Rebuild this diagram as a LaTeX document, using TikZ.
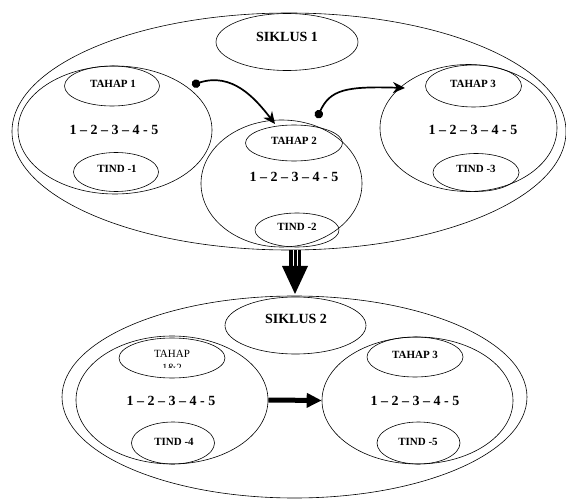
\documentclass[tikz,border=0pt]{standalone}
\usepackage{fontspec}
\setmainfont{Liberation Serif}
\usetikzlibrary{shapes.geometric,arrows.meta}
\begin{document}
\begin{tikzpicture}[x=1pt,y=-1pt,
  ell/.style={draw,ellipse,inner sep=0pt,line width=0.6pt},
  small/.style={font=\fontsize{11}{13}\selectfont\bfseries,inner sep=0pt},
  seq/.style={font=\fontsize{14}{16}\selectfont\bfseries,inner sep=0pt},
  title/.style={font=\fontsize{14}{16}\selectfont\bfseries,inner sep=0pt},
  curvearrow/.style={line width=1.7pt,{Circle[length=8.5pt]}-{Stealth[length=12pt,width=11pt]}}]
\useasboundingbox (0,0) rectangle (566,500);
% ---- Siklus 1
\node[ell,minimum width=554pt,minimum height=237pt] (out1) at (289,131.5) {};
\node[ell,minimum width=142pt,minimum height=57pt] (s1) at (287,42) {};
\node[title] (s1t) at (287,37) {SIKLUS 1};
\node[ell,minimum width=194pt,minimum height=128pt] (L1) at (115,130) {};
\node[ell,minimum width=95pt,minimum height=40pt] (T1) at (112,86) {};
\node[small] (T1t) at (113,84) {TAHAP 1};
\node[seq] (q1) at (114,130) {1 – 2 – 3 – 4 - 5};
\node[ell,minimum width=85pt,minimum height=39pt] (I1) at (116,172) {};
\node[small] (I1t) at (117,169) {TIND -1};
\node[ell,minimum width=161pt,minimum height=127pt] (M) at (281.5,183.5) {};
\node[ell,minimum width=97pt,minimum height=36pt] (T2) at (294,143) {};
\node[small] (T2t) at (294,141) {TAHAP 2};
\node[seq] (q2) at (294,177) {1 – 2 – 3 – 4 - 5};
\node[ell,minimum width=84pt,minimum height=34pt] (I2) at (297,230) {};
\node[small] (I2t) at (297,227) {TIND -2};
\node[ell,minimum width=177pt,minimum height=127pt] (R) at (468.5,128) {};
\node[ell,minimum width=96pt,minimum height=42pt] (T3) at (473.5,86) {};
\node[small] (T3t) at (473,84) {TAHAP 3};
\node[seq] (q3) at (473,130) {1 – 2 – 3 – 4 - 5};
\node[ell,minimum width=86pt,minimum height=38pt] (I3) at (476,172.5) {};
\node[small] (I3t) at (476,169) {TIND -3};
% curved arrows
\coordinate (a1s) at (192,85);
\coordinate (a1e) at (275,124);
\coordinate (a2s) at (317,118);
\coordinate (a2e) at (405,88);
\draw[curvearrow] (a1s) .. controls (232,72) and (255,98) .. (a1e);
\draw[curvearrow] (a2s) .. controls (330,90) and (345,86) .. (a2e);
% ---- big down arrow
\coordinate (d1) at (295,250);
\coordinate (d2) at (295,266);
\coordinate (d3) at (295,294);
\fill ([xshift=-6pt]d1) rectangle ([xshift=6pt]d2);
\draw[white,line width=0.8pt] ([xshift=-2pt]d1) -- ([xshift=-2pt]d2);
\draw[white,line width=0.8pt] ([xshift=2pt]d1) -- ([xshift=2pt]d2);
\fill ([xshift=-13pt]d2) -- ([xshift=13pt]d2) -- (d3) -- cycle;
% ---- Siklus 2
\node[ell,minimum width=465pt,minimum height=202pt] (out2) at (294.5,397) {};
\node[ell,minimum width=141pt,minimum height=57pt] (s2) at (295.5,325.5) {};
\node[title] (s2t) at (296,319) {SIKLUS 2};
\node[ell,minimum width=192pt,minimum height=128pt] (L2) at (172,400) {};
\node[ell,minimum width=106pt,minimum height=40pt] (T12) at (172,358) {};
\node[inner sep=0pt,font=\fontsize{11}{13}\selectfont] (T12t) at (172,354) {TAHAP};
\begin{scope}
\clip (150,362) rectangle (195,367.5);
\node[inner sep=0pt,font=\fontsize{11}{13}\selectfont] (T12n) at (172,368) {1\&2};
\end{scope}
\node[seq] (q4) at (171,401) {1 – 2 – 3 – 4 - 5};
\node[ell,minimum width=83pt,minimum height=42pt] (I4) at (173,443) {};
\node[small] (I4t) at (174,442) {TIND -4};
\node[ell,minimum width=191pt,minimum height=127pt] (R2) at (417.5,400.5) {};
\node[ell,minimum width=96pt,minimum height=40pt] (T3b) at (415,357) {};
\node[small] (T3bt) at (415,355) {TAHAP 3};
\node[seq] (q5) at (415,401) {1 – 2 – 3 – 4 - 5};
\node[ell,minimum width=83pt,minimum height=42pt] (I5) at (418.5,443) {};
\node[small] (I5t) at (418,442) {TIND -5};
% thick arrow
\draw[line width=5pt,-{Triangle[length=15pt 0,width=14pt 0]}] (L2.east) -- (R2.west);
\end{tikzpicture}
\end{document}
